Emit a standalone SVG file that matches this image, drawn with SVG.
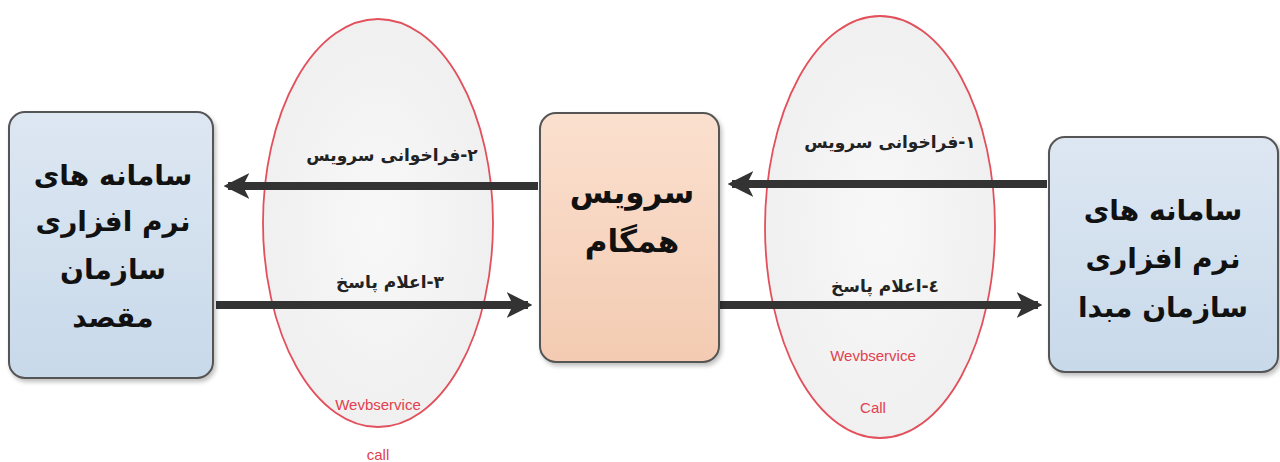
<svg xmlns="http://www.w3.org/2000/svg" width="1280" height="462" viewBox="0 0 1280 462">
<defs>
<linearGradient id="gBlue" x1="0" y1="0" x2="0" y2="1">
<stop offset="0" stop-color="#dde7f2"/>
<stop offset="1" stop-color="#c8d9ea"/>
</linearGradient>
<linearGradient id="gPeach" x1="0" y1="0" x2="0" y2="1">
<stop offset="0" stop-color="#fbe0cf"/>
<stop offset="1" stop-color="#f3cbb2"/>
</linearGradient>
<radialGradient id="gEll" cx="0.5" cy="0.5" r="0.5">
<stop offset="0" stop-color="#f8f8f8"/>
<stop offset="1" stop-color="#f0f0f0"/>
</radialGradient>
<filter id="sh" x="-10%" y="-10%" width="120%" height="120%">
<feDropShadow dx="2" dy="3" stdDeviation="2" flood-color="#000" flood-opacity="0.25"/>
</filter>
<marker id="ah" viewBox="0 0 12 12" refX="10" refY="6" markerWidth="3.2" markerHeight="3.2" orient="auto" markerUnits="strokeWidth">
<path d="M0,0 L12,6 L0,12 L3,6 Z" fill="#333333"/>
</marker>
<style>
.box{stroke:#555555;stroke-width:2;filter:url(#sh)}
.ell{fill:url(#gEll);stroke:#e2505c;stroke-width:1.8}
.big{font-family:"DejaVu Sans","Noto Sans",sans-serif;font-weight:bold;font-size:28px;fill:#111;text-anchor:middle}
.mid{font-size:31px}
.lbl{font-family:"DejaVu Sans","Noto Sans",sans-serif;font-weight:bold;font-size:17px;fill:#222;text-anchor:middle}
.ws{font-family:"Liberation Sans",Arial,sans-serif;font-size:15px;fill:#e2404e;text-anchor:middle}
.con{stroke:#333333;stroke-width:8;fill:none}
</style>
</defs>
<rect width="1280" height="462" fill="#ffffff"/>

<g id="ellipse-left"><ellipse class="ell" cx="378" cy="223" rx="115" ry="204"/></g>
<g id="ellipse-right"><ellipse class="ell" cx="880" cy="227" rx="115" ry="211"/></g>

<g id="connectors">
<line class="con" x1="538" y1="186" x2="228" y2="186" marker-end="url(#ah)"/>
<line class="con" x1="216" y1="305" x2="528" y2="305" marker-end="url(#ah)"/>
<line class="con" x1="1047" y1="184" x2="732" y2="184" marker-end="url(#ah)"/>
<line class="con" x1="720" y1="305" x2="1038" y2="305" marker-end="url(#ah)"/>
</g>

<g id="node-dest">
<rect class="box" x="9" y="112" width="204" height="266" rx="16" fill="url(#gBlue)"/>
<text class="big" direction="rtl" x="113" y="185">سامانه های</text>
<text class="big" direction="rtl" x="113" y="231">نرم افزاری</text>
<text class="big" direction="rtl" x="113" y="279">سازمان</text>
<text class="big" direction="rtl" x="113" y="327">مقصد</text>
</g>

<g id="node-sync">
<rect class="box" x="540" y="113" width="179" height="249" rx="16" fill="url(#gPeach)"/>
<text class="big mid" direction="rtl" x="632" y="203">سرویس</text>
<text class="big mid" direction="rtl" x="632" y="252">همگام</text>
</g>

<g id="node-src">
<rect class="box" x="1049" y="137" width="229" height="235" rx="16" fill="url(#gBlue)"/>
<text class="big" direction="rtl" x="1163" y="220">سامانه های</text>
<text class="big" direction="rtl" x="1163" y="268">نرم افزاری</text>
<text class="big" direction="rtl" x="1163" y="317">سازمان مبدا</text>
</g>

<g id="labels">
<text class="lbl" direction="rtl" x="392" y="161">۲-فراخوانی سرویس</text>
<text class="lbl" direction="rtl" x="390" y="288">۳-اعلام پاسخ</text>
<text class="lbl" direction="rtl" x="890" y="148">۱-فراخوانی سرویس</text>
<text class="lbl" direction="rtl" x="885" y="292">٤-اعلام پاسخ</text>
<text class="ws" x="378" y="410">Wevbservice</text>
<text class="ws" x="378" y="460">call</text>
<text class="ws" x="873" y="361">Wevbservice</text>
<text class="ws" x="873" y="413">Call</text>
</g>
</svg>
